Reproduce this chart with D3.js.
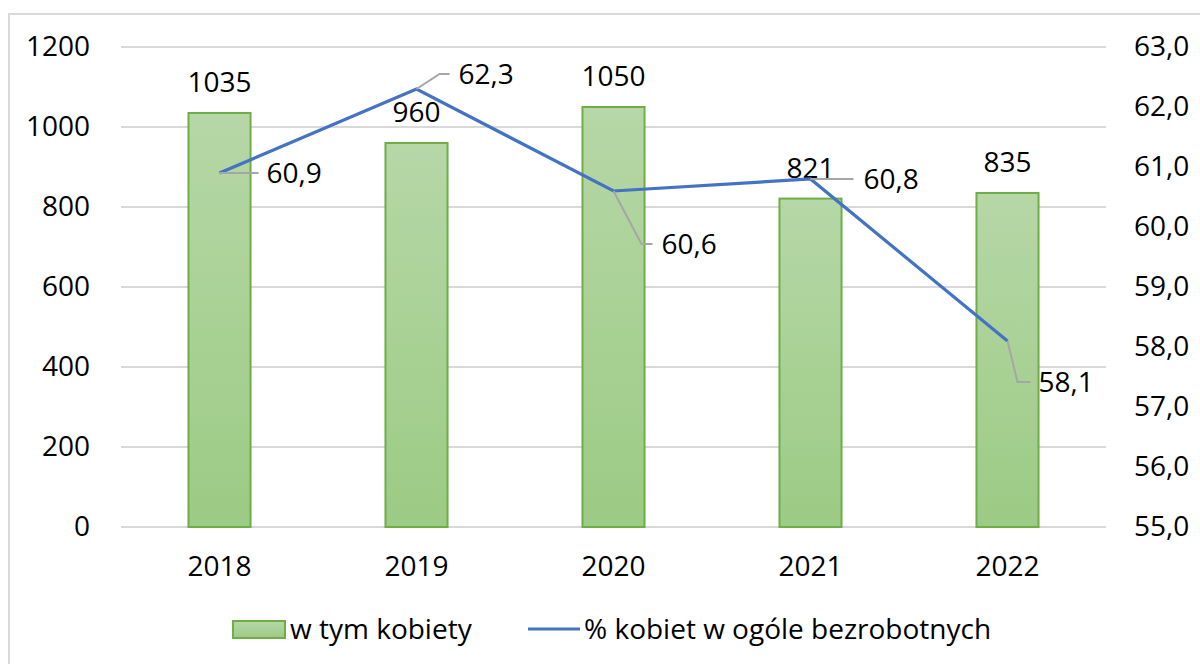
<!DOCTYPE html>
<html>
<head>
<meta charset="utf-8">
<script src="https://cdn.jsdelivr.net/npm/d3@7"></script>
<style>
  body { margin: 0; background: #fff; }
  text { font-family: "Open Sans", sans-serif; fill: #000; }
</style>
</head>
<body>
<div id="chart"></div>
<script>
// data
const years = ["2018", "2019", "2020", "2021", "2022"];
const women = [1035, 960, 1050, 821, 835];
const womenShare = [60.9, 62.3, 60.6, 60.8, 58.1];
const leftTicks = [0, 200, 400, 600, 800, 1000, 1200];
const rightTicks = [55, 56, 57, 58, 59, 60, 61, 62, 63];
const seriesNames = ["w tym kobiety", "% kobiet w ogóle bezrobotnych"];

// where the % labels sit relative to their point: [elbowX, elbowY, lineEndX, textX]
const labelOffsets = [[0, 0, 39, 47], [23, -15, 33, 42], [28, 53, 39, 48], [0, 0, 43, 53], [10, 41, 23, 31]];

const W = 1200, H = 664;
const FS = "28px";
const svg = d3.select("#chart").append("svg").attr("width", W).attr("height", H);

// chart frame
svg.append("rect").attr("x", 9).attr("y", 14).attr("width", W).attr("height", H)
    .attr("fill", "none").attr("stroke", "#d9d9d9").attr("stroke-width", 2);

const x = d3.scaleBand().domain(years).range([121, 1106]);
const y = d3.scaleLinear().domain([0, 1200]).range([527, 47]);
const y2 = d3.scaleLinear().domain([55, 63]).range([527, 47]);
const barW = x.bandwidth() * 0.315;
const pct = d => d3.format(".1f")(d).replace(".", ",");

const defs = svg.append("defs");
const grad = defs.append("linearGradient").attr("id", "barGrad")
    .attr("x1", 0).attr("y1", 0).attr("x2", 0).attr("y2", 1);
grad.append("stop").attr("offset", "0%").attr("stop-color", "#b6d7a7");
grad.append("stop").attr("offset", "100%").attr("stop-color", "#9ccb84");

// gridlines
svg.append("g").selectAll("line").data(leftTicks).join("line")
    .attr("x1", 121).attr("x2", 1106)
    .attr("y1", d => y(d)).attr("y2", d => y(d))
    .attr("stroke", "#d9d9d9").attr("stroke-width", 2);

// left axis
svg.append("g").attr("transform", "translate(90,0)")
    .call(d3.axisLeft(y).tickValues(leftTicks).tickSize(0).tickPadding(0).tickFormat(d3.format("d")))
    .call(g => g.select(".domain").remove())
    .selectAll("text").style("font-size", FS).attr("fill", "#000");

// right axis
svg.append("g").attr("transform", "translate(1134,0)")
    .call(d3.axisRight(y2).tickValues(rightTicks).tickSize(0).tickPadding(0).tickFormat(pct))
    .call(g => g.select(".domain").remove())
    .selectAll("text").style("font-size", FS).attr("fill", "#000");

// bottom axis
svg.append("g").attr("transform", "translate(0,556)")
    .call(d3.axisBottom(x).tickSize(0).tickPadding(0))
    .call(g => g.select(".domain").remove())
    .selectAll("text").style("font-size", FS).attr("fill", "#000");

const data = years.map((yr, i) => ({year: yr, v: women[i], p: womenShare[i], off: labelOffsets[i]}));

// bars
svg.append("g").selectAll("rect").data(data).join("rect")
    .attr("x", d => x(d.year) + (x.bandwidth() - barW) / 2)
    .attr("y", d => y(d.v))
    .attr("width", barW)
    .attr("height", d => y(0) - y(d.v))
    .attr("fill", "url(#barGrad)")
    .attr("stroke", "#70ad47").attr("stroke-width", 2);

// bar labels
svg.append("g").selectAll("text").data(data).join("text")
    .attr("x", d => x(d.year) + x.bandwidth() / 2)
    .attr("y", d => y(d.v) - 21)
    .attr("text-anchor", "middle")
    .style("font-size", FS)
    .text(d => d.v);

// line
const cx = d => x(d.year) + x.bandwidth() / 2;
svg.append("path").datum(data)
    .attr("d", d3.line().x(cx).y(d => y2(d.p)))
    .attr("fill", "none").attr("stroke", "#4472c4").attr("stroke-width", 3.2);

// leader lines + % labels
const lbl = svg.append("g").selectAll("g").data(data).join("g")
    .attr("transform", d => `translate(${cx(d)},${y2(d.p)})`);
lbl.append("polyline")
    .attr("points", d => `0,0 ${d.off[0]},${d.off[1]} ${d.off[2]},${d.off[1]}`)
    .attr("fill", "none").attr("stroke", "#a6a6a6").attr("stroke-width", 2);
lbl.append("text")
    .attr("x", d => d.off[3]).attr("y", d => d.off[1])
    .attr("dy", "0.36em")
    .style("font-size", FS)
    .text(d => pct(d.p));

// legend
const leg = svg.append("g");
leg.append("rect").attr("x", 233).attr("y", 621).attr("width", 52).attr("height", 17)
    .attr("fill", "url(#barGrad)").attr("stroke", "#70ad47").attr("stroke-width", 2);
leg.append("text").attr("x", 290).attr("y", 629).attr("dy", "0.36em")
    .style("font-size", FS).text(seriesNames[0]);
leg.append("line").attr("x1", 528).attr("x2", 580).attr("y1", 629).attr("y2", 629)
    .attr("stroke", "#4472c4").attr("stroke-width", 3.2);
leg.append("text").attr("x", 584).attr("y", 629).attr("dy", "0.36em")
    .style("font-size", FS).text(seriesNames[1]);
</script>
</body>
</html>
